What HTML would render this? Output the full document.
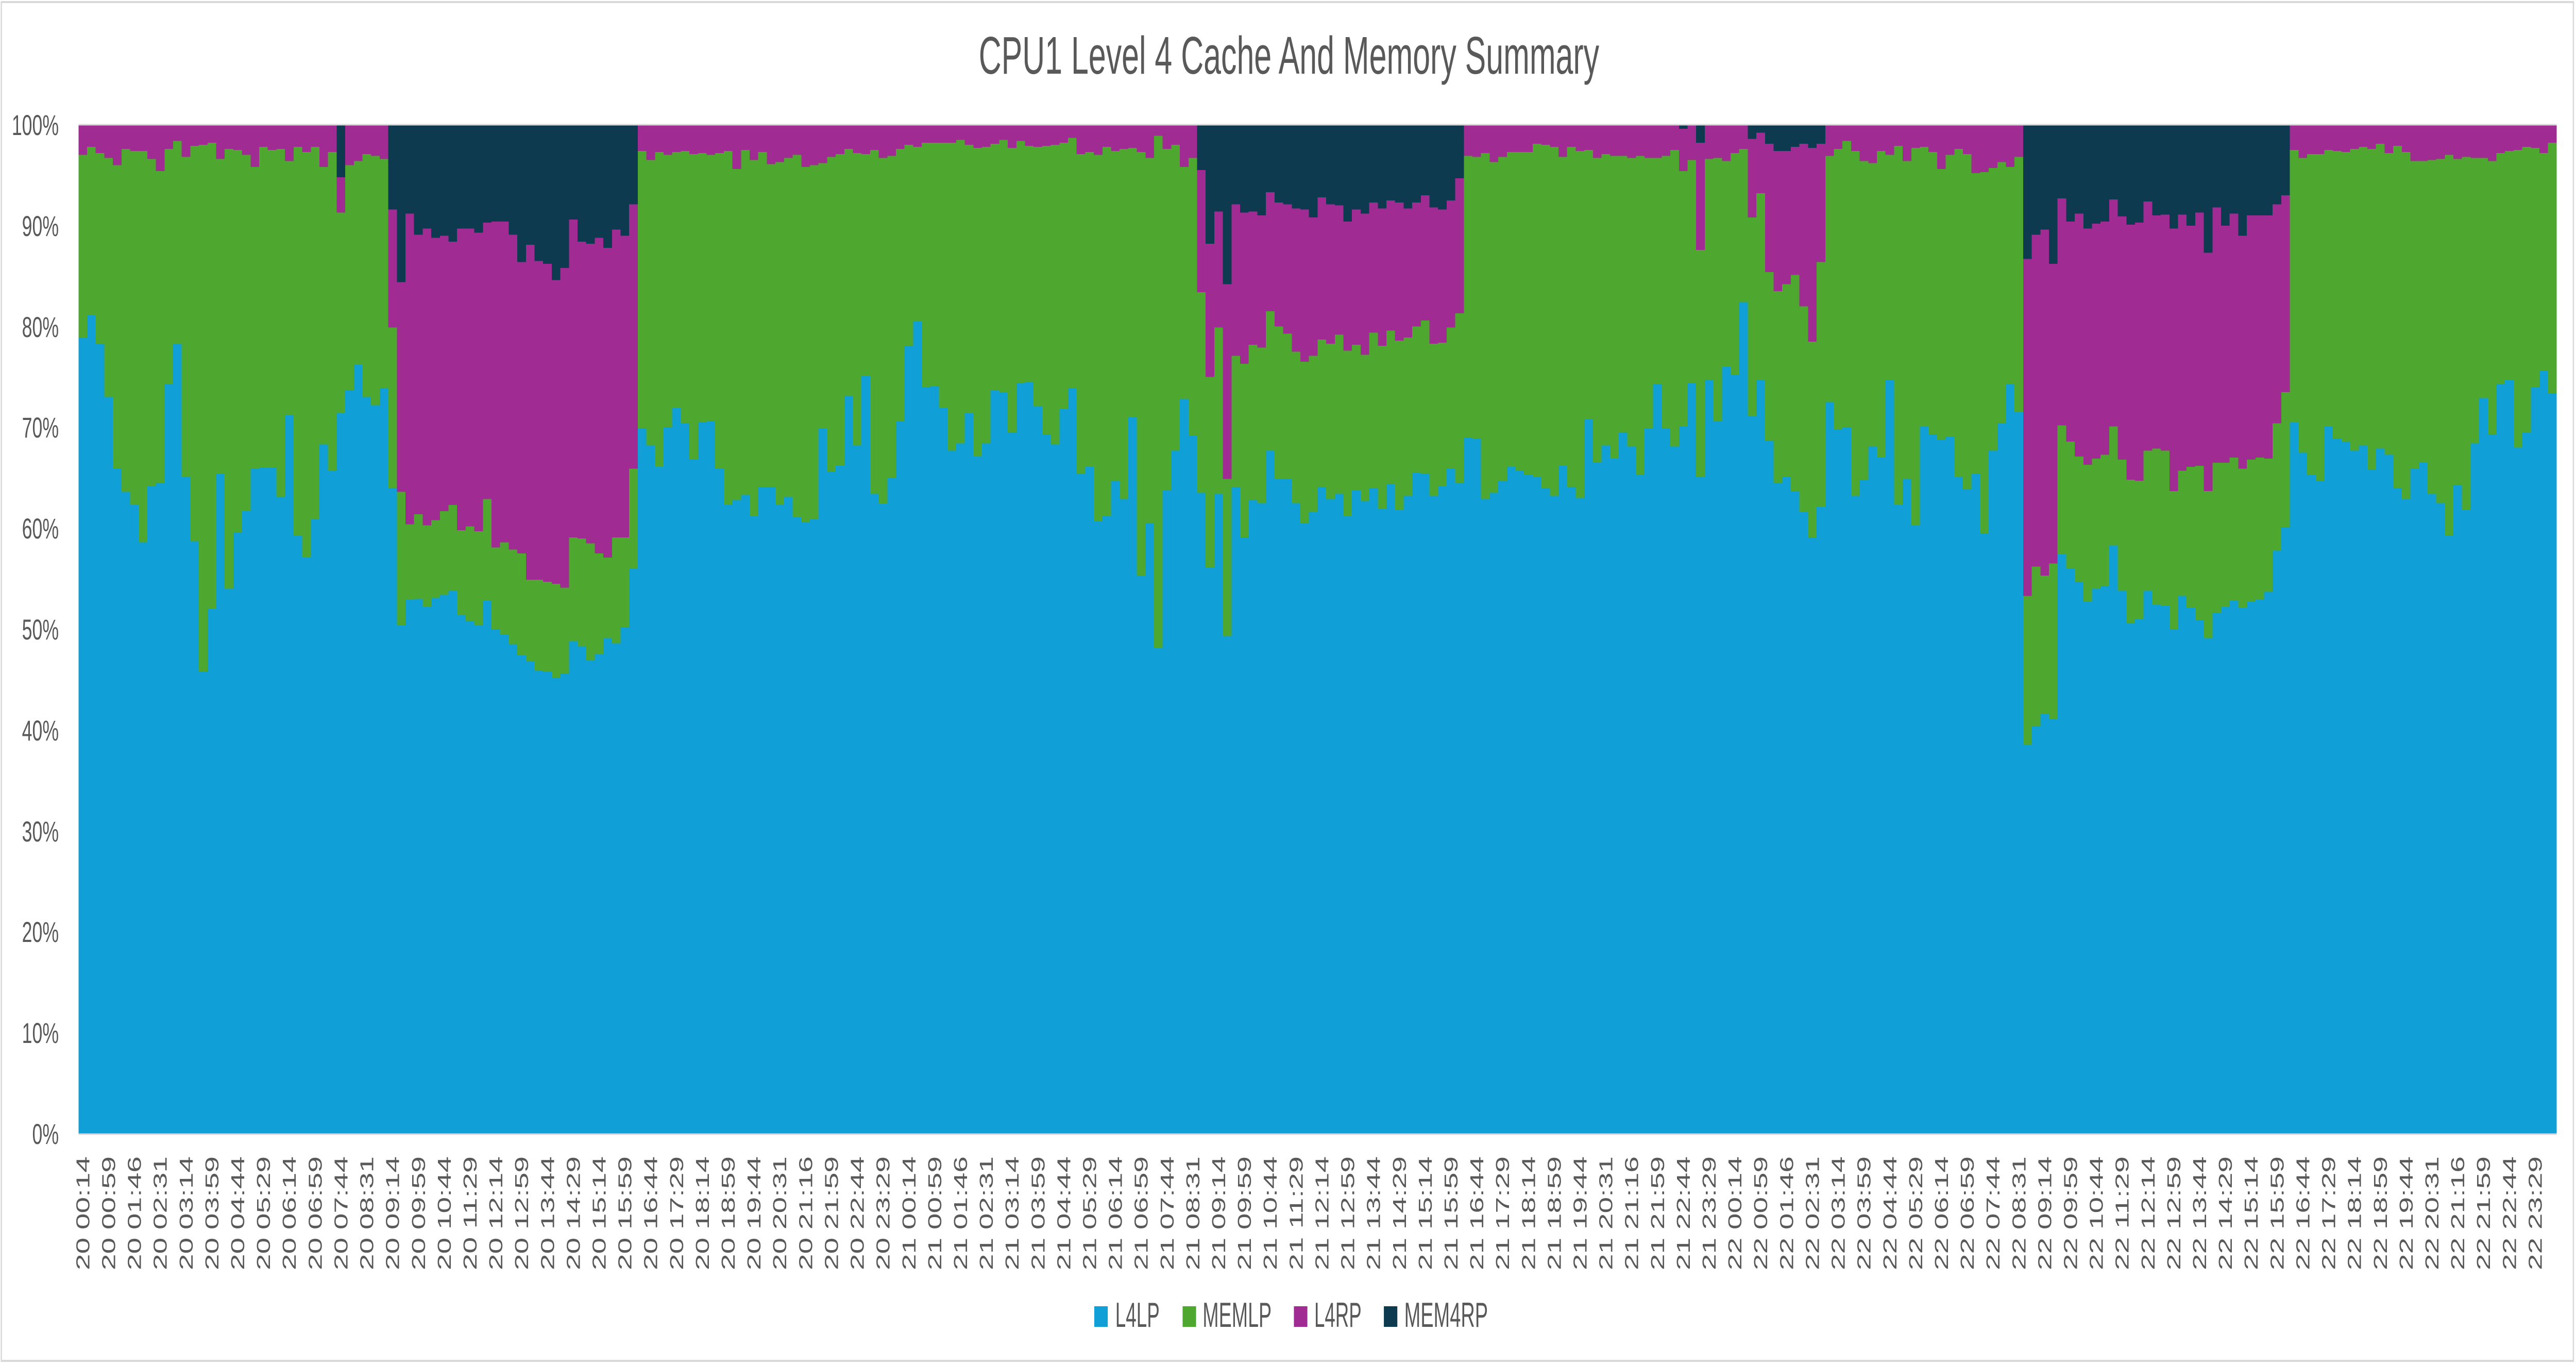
<!DOCTYPE html>
<html><head><meta charset="utf-8"><style>
html,body{margin:0;padding:0;background:#fff;width:100%;height:100%;overflow:hidden;}
svg{display:block;font-family:"Liberation Sans",Arial,sans-serif;width:100vw;height:100vh;}
</style></head><body>
<svg id="s" viewBox="0 0 7846 2649" preserveAspectRatio="none" xmlns="http://www.w3.org/2000/svg">
<rect x="0" y="0" width="7846" height="2649" fill="#fff"/>
<rect x="4" y="4" width="7834" height="2637" fill="none" stroke="#d9d9d9" stroke-width="4"/>
<text x="2981" y="143" font-size="103" fill="#595959" textLength="1890" lengthAdjust="spacingAndGlyphs">CPU1 Level 4 Cache And Memory Summary</text>
<g id="bars" shape-rendering="crispEdges"></g>
<line x1="239" y1="242" x2="7787" y2="242" stroke="#d9d9d9" stroke-width="3"/>
<line x1="239" y1="2201" x2="7787" y2="2201" stroke="#d9d9d9" stroke-width="3"/>
<g font-size="56" fill="#595959" text-anchor="end">
<text x="179" y="262">100%</text>
<text x="179" y="458">90%</text>
<text x="179" y="654">80%</text>
<text x="179" y="849">70%</text>
<text x="179" y="1045">60%</text>
<text x="179" y="1241">50%</text>
<text x="179" y="1437">40%</text>
<text x="179" y="1633">30%</text>
<text x="179" y="1828">20%</text>
<text x="179" y="2024">10%</text>
<text x="179" y="2220">0%</text>
</g>
<g id="xl" font-size="57" fill="#595959" text-anchor="end">
<text>20 00:14</text><text>20 00:59</text><text>20 01:46</text><text>20 02:31</text><text>20 03:14</text><text>20 03:59</text><text>20 04:44</text><text>20 05:29</text><text>20 06:14</text><text>20 06:59</text><text>20 07:44</text><text>20 08:31</text><text>20 09:14</text><text>20 09:59</text><text>20 10:44</text><text>20 11:29</text><text>20 12:14</text><text>20 12:59</text><text>20 13:44</text><text>20 14:29</text><text>20 15:14</text><text>20 15:59</text><text>20 16:44</text><text>20 17:29</text><text>20 18:14</text><text>20 18:59</text><text>20 19:44</text><text>20 20:31</text><text>20 21:16</text><text>20 21:59</text><text>20 22:44</text><text>20 23:29</text>
<text>21 00:14</text><text>21 00:59</text><text>21 01:46</text><text>21 02:31</text><text>21 03:14</text><text>21 03:59</text><text>21 04:44</text><text>21 05:29</text><text>21 06:14</text><text>21 06:59</text><text>21 07:44</text><text>21 08:31</text><text>21 09:14</text><text>21 09:59</text><text>21 10:44</text><text>21 11:29</text><text>21 12:14</text><text>21 12:59</text><text>21 13:44</text><text>21 14:29</text><text>21 15:14</text><text>21 15:59</text><text>21 16:44</text><text>21 17:29</text><text>21 18:14</text><text>21 18:59</text><text>21 19:44</text><text>21 20:31</text><text>21 21:16</text><text>21 21:59</text><text>21 22:44</text><text>21 23:29</text>
<text>22 00:14</text><text>22 00:59</text><text>22 01:46</text><text>22 02:31</text><text>22 03:14</text><text>22 03:59</text><text>22 04:44</text><text>22 05:29</text><text>22 06:14</text><text>22 06:59</text><text>22 07:44</text><text>22 08:31</text><text>22 09:14</text><text>22 09:59</text><text>22 10:44</text><text>22 11:29</text><text>22 12:14</text><text>22 12:59</text><text>22 13:44</text><text>22 14:29</text><text>22 15:14</text><text>22 15:59</text><text>22 16:44</text><text>22 17:29</text><text>22 18:14</text><text>22 18:59</text><text>22 19:44</text><text>22 20:31</text><text>22 21:16</text><text>22 21:59</text><text>22 22:44</text><text>22 23:29</text>
</g>
<g font-size="68" fill="#595959">
<rect x="3333" y="2535" width="41" height="40" fill="#119fd7"/>
<text x="3397" y="2575" textLength="135" lengthAdjust="spacingAndGlyphs">L4LP</text>
<rect x="3602" y="2535" width="41" height="40" fill="#4ea72e"/>
<text x="3663" y="2575" textLength="210" lengthAdjust="spacingAndGlyphs">MEMLP</text>
<rect x="3941" y="2535" width="41" height="40" fill="#a02b93"/>
<text x="4003" y="2575" textLength="144" lengthAdjust="spacingAndGlyphs">L4RP</text>
<rect x="4215" y="2535" width="41" height="40" fill="#0e3a4f"/>
<text x="4277" y="2575" textLength="255" lengthAdjust="spacingAndGlyphs">MEM4RP</text>
</g>
</svg>
<script>
var B=[78.9,81.1,78.3,73.0,65.9,63.6,62.3,58.6,64.2,64.5,74.3,78.3,65.1,58.7,45.8,52.0,65.4,54.0,59.6,61.7,65.9,66.0,66.0,63.1,71.2,59.3,57.1,60.9,68.3,65.7,71.4,73.7,76.2,73.0,72.2,73.9,64.0,50.4,52.9,53.0,52.2,53.1,53.4,53.8,51.4,50.8,50.4,52.8,50.0,49.5,48.5,47.4,46.8,45.9,45.8,45.2,45.6,48.8,48.3,46.9,47.5,49.1,48.6,50.2,56.0,69.9,68.2,66.1,70.0,71.9,70.4,66.8,
70.5,70.6,65.9,62.3,62.8,63.3,61.2,64.1,64.1,62.3,63.1,61.1,60.6,60.9,69.9,65.6,66.2,73.1,68.2,75.1,63.4,62.4,65.0,70.6,78.1,80.5,74.0,74.1,71.9,67.7,68.4,71.4,67.1,68.4,73.7,73.5,69.5,74.4,74.5,72.1,69.3,68.3,71.8,73.9,65.4,66.1,60.7,61.2,64.7,62.9,71.0,55.3,60.5,48.1,63.8,67.7,72.8,69.2,63.5,56.1,63.4,49.3,64.1,59.1,62.8,62.5,67.7,64.9,64.9,62.5,60.5,61.6,
64.1,62.9,63.4,61.2,63.8,62.7,64.0,61.9,64.4,61.8,63.2,65.5,65.4,63.2,64.2,65.9,64.5,69.0,68.9,62.9,63.5,64.7,66.1,65.7,65.3,65.1,64.0,63.2,66.2,64.1,63.0,70.8,66.5,68.2,66.9,69.5,68.1,65.3,69.9,74.3,69.9,68.1,70.1,74.4,65.1,74.7,70.6,76.0,75.2,82.4,71.1,74.7,68.7,64.5,65.1,63.7,61.6,59.1,62.1,72.5,69.8,70.0,63.2,64.8,68.1,67.0,74.7,62.3,64.9,60.3,70.1,69.3,
68.8,69.1,65.1,63.9,65.4,59.5,67.7,70.4,74.3,71.5,38.5,40.4,41.6,41.1,57.4,56.0,54.7,52.7,54.0,54.3,58.3,53.8,50.6,51.0,53.8,52.4,52.3,50.0,53.3,52.1,50.9,49.1,51.6,52.2,52.8,52.1,52.7,52.9,53.7,57.8,60.1,70.5,67.5,65.3,64.7,70.1,68.9,68.6,67.7,68.2,65.8,67.9,67.3,64.0,62.9,65.9,66.5,63.4,62.5,59.3,64.3,61.8,68.4,72.9,69.3,74.3,74.7,68.0,69.5,74.0,75.6,73.4];
var G=[97.0,97.8,97.2,96.7,96.0,97.6,97.4,97.4,96.6,95.4,97.6,98.4,96.8,97.9,98.0,98.2,96.6,97.6,97.5,97.0,95.8,97.8,97.5,97.6,96.4,97.8,97.3,97.8,95.8,97.3,91.3,96.0,96.4,97.1,96.9,96.6,79.9,63.6,60.4,61.4,60.3,60.8,61.7,62.3,59.8,60.2,59.7,62.9,58.1,58.6,57.9,57.5,54.9,54.9,54.7,54.5,54.1,59.1,59.0,58.5,57.5,57.1,59.1,59.1,65.9,97.4,96.5,97.3,97.0,97.3,97.4,97.1,
97.2,97.0,97.2,97.4,95.6,97.5,96.5,97.3,96.1,96.3,96.7,97.0,95.8,96.0,96.2,96.8,97.1,97.6,97.2,97.1,97.5,96.7,96.9,97.6,98.0,97.8,98.2,98.2,98.2,98.2,98.5,98.0,97.7,97.8,98.1,98.5,97.7,98.4,97.9,97.8,97.9,98.0,98.2,98.7,97.1,97.3,97.0,97.8,97.4,97.6,97.7,97.3,96.7,98.9,97.6,98.0,95.8,96.7,83.4,75.0,79.9,64.9,77.1,76.3,78.2,77.9,81.5,80.0,79.3,77.5,76.5,77.1,
78.7,78.3,79.2,77.6,78.2,77.2,79.4,78.1,79.6,78.6,78.9,80.0,80.6,78.3,78.4,79.9,81.3,96.9,96.8,97.2,96.3,96.8,97.3,97.3,97.3,98.1,98.0,97.8,96.8,97.8,97.4,97.5,96.7,97.1,96.9,96.9,96.7,96.9,96.7,96.7,96.9,97.5,95.4,96.5,87.6,96.6,96.7,96.4,97.2,97.6,90.8,93.2,85.4,83.5,84.2,85.1,82.0,78.5,86.4,96.9,97.6,98.4,97.4,96.4,96.2,97.4,97.0,97.9,96.4,97.7,97.8,97.3,
95.6,97.0,97.6,97.1,95.2,95.3,95.7,96.3,95.8,96.8,53.3,56.2,55.3,56.5,70.2,68.6,67.1,66.3,66.9,67.3,70.1,66.8,64.8,64.7,67.7,67.9,67.7,63.7,65.7,66.1,66.2,63.7,66.5,66.5,67.0,65.9,66.8,67.0,66.9,70.4,73.5,97.5,96.7,97.1,97.1,97.5,97.4,97.3,97.6,97.8,97.6,98.1,97.2,97.9,97.3,96.4,96.4,96.5,96.6,97.0,96.6,96.8,96.7,96.7,96.4,97.2,97.4,97.5,97.8,97.7,97.2,98.2];
var P={30:94.8,36:91.6,37:84.4,38:91.2,39:89.1,40:89.7,41:88.8,42:89.0,43:88.4,44:89.7,45:89.7,46:89.3,47:90.3,48:90.4,49:90.4,50:89.1,51:86.4,52:88.1,53:86.5,54:86.2,55:84.6,56:85.8,57:90.6,58:88.4,59:88.2,60:88.8,61:87.8,62:89.6,63:89.0,64:92.1,
130:95.5,131:88.2,132:91.4,133:84.2,134:92.1,135:91.3,136:91.4,137:91.0,138:93.3,139:92.3,140:92.1,141:91.7,142:91.6,143:90.8,144:92.8,145:92.1,146:92.0,147:90.4,148:91.6,149:91.2,150:92.3,151:91.7,152:92.5,153:92.3,154:91.7,155:92.3,156:93.0,157:91.8,158:91.6,159:92.5,160:94.7,
186:99.6,188:98.2,194:98.6,195:99.2,196:98.1,197:97.4,198:97.4,199:97.8,200:98.1,201:97.7,202:98.1,
226:86.7,227:89.1,228:89.6,229:86.2,230:92.7,231:90.4,232:91.2,233:89.7,234:90.2,235:90.4,236:92.6,237:90.9,238:90.1,239:90.3,240:92.4,241:91.0,242:91.1,243:89.7,244:91.1,245:90.0,246:91.3,247:87.3,248:91.8,249:90.0,250:91.2,251:89.0,252:91.0,253:91.0,254:91.0,255:92.1,256:93.0};
var L=239,T=242,H=1958,W=7548,n=288,bw=W/n;
function Y(p){return T+H*(1-p/100);}
var h='';
var cols=['#0e3a4f','#a02b93','#4ea72e','#119fd7'];
for(var i=0;i<n;i++){
 var x=L+i*bw,w=bw+0.6;
 if(i==n-1)w=L+W-x;
 var p=P[i]!==undefined?P[i]:100;
 var vals=[100,p,G[i],B[i]];
 for(var k=0;k<4;k++){
  var y=Y(vals[k]);
  h+='<rect x="'+x.toFixed(2)+'" y="'+y.toFixed(2)+'" width="'+w.toFixed(2)+'" height="'+(T+H-y).toFixed(2)+'" fill="'+cols[k]+'"/>';
 }
}
document.getElementById('bars').innerHTML=h;
var ts=document.getElementById('xl').getElementsByTagName('text');
for(var j=0;j<ts.length;j++){
 var cx=L+(3*j+0.5)*bw+20;
 ts[j].setAttribute('transform','translate('+cx.toFixed(2)+',2244) rotate(-90)');
 ts[j].setAttribute('textLength','221');
 ts[j].setAttribute('lengthAdjust','spacingAndGlyphs');
}
</script>
</body></html>
